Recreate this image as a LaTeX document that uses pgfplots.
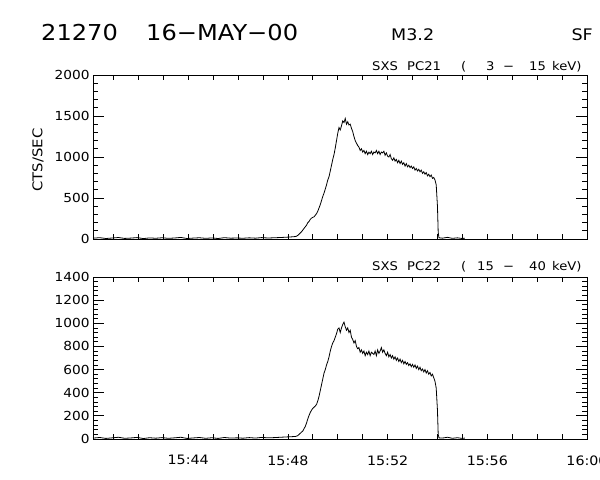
\documentclass[border=0pt]{standalone}
\usepackage{pgfplots}
\pgfplotsset{compat=1.18}
\usepackage{fontspec}
\setmainfont{DejaVu Sans}[FakeStretch=1.1]

\pgfplotstableread{
t c
40.18 10
40.45 16
40.70 6
40.95 12
41.20 18
41.45 7
41.70 11
41.95 17
42.20 5
42.45 13
42.70 9
42.95 15
43.20 8
43.45 12
43.70 19
43.95 6
44.20 11
44.45 15
44.70 8
44.95 13
45.20 6
45.45 16
45.70 10
45.95 12
46.20 9
46.45 14
46.70 10
46.95 17
47.20 12
47.45 15
47.70 18
47.95 22
48.15 26
48.30 30
48.35 35
48.40 45
48.45 60
48.50 75
48.55 90
48.60 110
48.65 130
48.70 150
48.75 170
48.80 200
48.85 215
48.90 240
48.95 255
49.00 265
49.05 270
49.10 290
49.15 310
49.20 340
49.25 380
49.30 420
49.35 470
49.40 520
49.45 560
49.50 610
49.55 660
49.60 720
49.65 760
49.70 830
49.75 900
49.80 970
49.85 1030
49.90 1110
49.95 1200
50.00 1290
50.05 1360
50.10 1330
50.15 1380
50.20 1440
50.25 1420
50.30 1470
50.35 1400
50.40 1430
50.45 1390
50.50 1400
50.55 1350
50.60 1310
50.65 1250
50.70 1200
50.75 1170
50.80 1140
50.85 1120
50.90 1080
50.95 1100
51.00 1060
51.05 1080
51.10 1040
51.15 1070
51.20 1030
51.25 1060
51.30 1040
51.35 1070
51.40 1030
51.45 1060
51.50 1050
51.55 1080
51.60 1040
51.65 1070
51.70 1030
51.75 1060
51.80 1050
51.85 1070
51.90 1020
51.95 1050
52.00 1010
52.05 1000
52.10 1030
52.15 980
52.20 960
52.25 990
52.30 950
52.35 970
52.40 930
52.45 960
52.50 920
52.55 950
52.60 910
52.65 930
52.70 890
52.75 920
52.80 880
52.85 900
52.90 870
52.95 890
53.00 860
53.05 880
53.10 840
53.15 860
53.20 830
53.25 850
53.30 820
53.35 840
53.40 800
53.45 820
53.50 790
53.55 810
53.60 770
53.65 790
53.70 760
53.75 780
53.80 740
53.85 750
53.90 720
53.95 660
54.00 400
54.03 80
54.06 15
54.20 10
54.40 20
54.60 8
54.80 14
55.00 6
55.10 10
}\pcA

\pgfplotstableread{
t c
40.18 8
40.45 13
40.70 5
40.95 10
41.20 15
41.45 6
41.70 9
41.95 14
42.20 4
42.45 11
42.70 7
42.95 12
43.20 6
43.45 10
43.70 15
43.95 5
44.20 9
44.45 13
44.70 6
44.95 11
45.20 5
45.45 13
45.70 8
45.95 10
46.20 7
46.45 12
46.70 8
46.95 14
47.20 10
47.45 12
47.70 15
47.95 18
48.15 20
48.30 22
48.35 25
48.40 30
48.45 40
48.50 50
48.55 60
48.60 70
48.65 90
48.70 110
48.75 140
48.80 175
48.85 205
48.90 230
48.95 250
49.00 265
49.05 275
49.10 285
49.15 300
49.20 330
49.25 370
49.30 420
49.35 470
49.40 520
49.45 570
49.50 600
49.55 640
49.60 670
49.65 710
49.70 760
49.75 800
49.80 830
49.85 850
49.90 880
49.95 910
50.00 950
50.05 960
50.10 920
50.15 960
50.20 990
50.25 1010
50.30 970
50.35 940
50.40 960
50.45 920
50.50 940
50.55 880
50.60 860
50.65 830
50.70 850
50.75 800
50.80 780
50.85 790
50.90 750
50.95 770
51.00 740
51.05 760
51.10 720
51.15 750
51.20 730
51.25 760
51.30 720
51.35 750
51.40 740
51.45 730
51.50 760
51.55 720
51.60 770
51.65 740
51.70 760
51.75 790
51.80 750
51.85 770
51.90 740
51.95 720
52.00 750
52.05 710
52.10 730
52.15 700
52.20 720
52.25 690
52.30 710
52.35 680
52.40 700
52.45 670
52.50 690
52.55 660
52.60 680
52.65 650
52.70 670
52.75 645
52.80 660
52.85 635
52.90 650
52.95 625
53.00 645
53.05 620
53.10 640
53.15 610
53.20 630
53.25 600
53.30 620
53.35 590
53.40 605
53.45 580
53.50 600
53.55 570
53.60 590
53.65 560
53.70 575
53.75 545
53.80 560
53.85 530
53.90 500
53.95 440
54.00 250
54.03 40
54.06 10
54.20 8
54.40 15
54.60 6
54.80 11
55.00 5
55.10 8
}\pcB

\pgfplotsset{
  idl/.style={
    scale only axis,
    width=494bp,
    xmin=40.18, xmax=60,
    xtick={41,...,60},
    tick align=inside,
    xtick style={/pgfplots/major tick length=5bp},
    ytick style={/pgfplots/major tick length=11bp},
    minor tick length=5bp,
    tick style={black, line width=0.8bp},
    axis line style={line width=0.8bp},
    yticklabel style={font=\fontsize{12.5}{15}\selectfont},
    xticklabel style={font=\fontsize{13}{15}\selectfont, yshift=-13bp},
    /pgf/number format/assume math mode=true,
    /pgf/number format/1000 sep={},
    clip=false,
  }
}

\begin{document}
\begin{tikzpicture}
\path[use as bounding box] (0,0) rectangle (600bp,480bp);

\node[anchor=base west, inner sep=0pt, font=\fontsize{22}{26}\selectfont] at (41bp,439bp) {21270};
\node[anchor=base west, inner sep=0pt, font=\fontsize{22}{26}\selectfont] at (146bp,439bp) {16−MAY−00};
\node[anchor=base west, inner sep=0pt, font=\fontsize{16}{18}\selectfont] at (391bp,439bp) {M3.2};
\node[anchor=base east, inner sep=0pt, font=\fontsize{16}{18}\selectfont] at (593bp,439bp) {SF};

\begin{scope}[every node/.style={anchor=base west, inner sep=0pt, font=\fontsize{12}{14}\selectfont}]
\node at (372bp,409bp) {SXS};
\node at (407bp,409bp) {PC21};
\node at (461bp,409bp) {(};
\node at (486bp,409bp) {3};
\node at (503bp,409bp) {−};
\node at (529bp,409bp) {15};
\node at (552bp,409bp) {keV)};
\node at (372bp,209bp) {SXS};
\node at (407bp,209bp) {PC22};
\node at (461bp,209bp) {(};
\node at (477bp,209bp) {15};
\node at (503bp,209bp) {−};
\node at (529bp,209bp) {40};
\node at (552bp,209bp) {keV)};
\end{scope}

\node[rotate=90, inner sep=0pt, font=\fontsize{13.5}{15}\selectfont] at (38bp,320bp) {CTS/SEC};

\begin{axis}[idl, at={(93bp,241bp)}, anchor=south west, height=164bp,
  ymin=0, ymax=2000, ytick={0,500,...,2000}, minor y tick num=4,
  xticklabels={}]
\addplot[black, line width=0.8bp, mark=none] table[x=t, y=c] {\pcA};
\end{axis}

\begin{axis}[idl, at={(93bp,41bp)}, anchor=south west, height=162bp,
  ymin=0, ymax=1400, ytick={0,200,...,1400}, minor y tick num=4,
  xticklabels={,,,15:44,,,,15:48,,,,15:52,,,,15:56,,,,16:00}]
\addplot[black, line width=0.8bp, mark=none] table[x=t, y=c] {\pcB};
\end{axis}
\end{tikzpicture}
\end{document}
